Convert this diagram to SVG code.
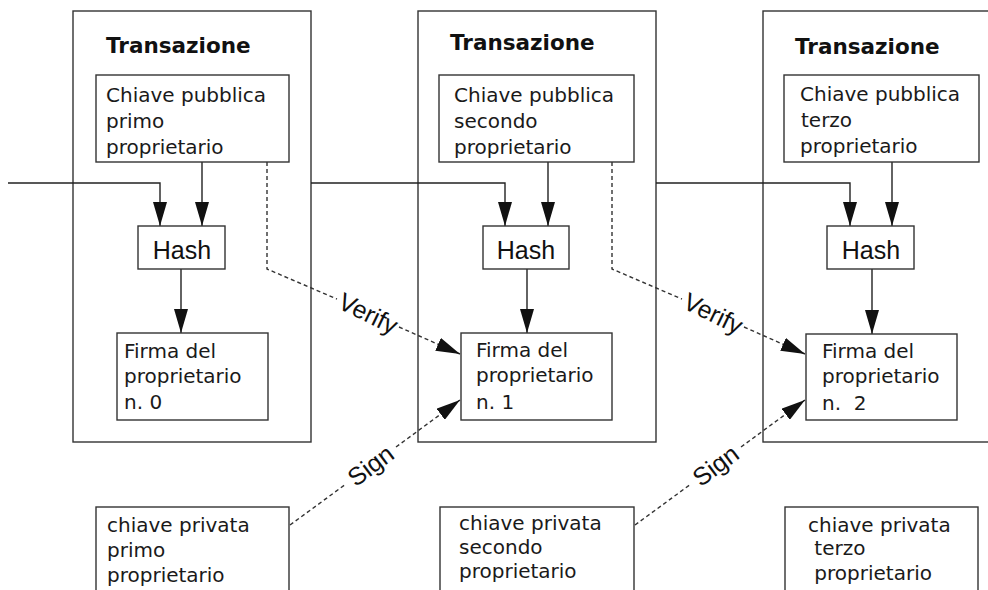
<svg xmlns="http://www.w3.org/2000/svg" width="988" height="590" viewBox="0 0 988 590">
<style>
.box{fill:#fff;stroke:#333;stroke-width:1.4}
.frame{fill:none;stroke:#333;stroke-width:1.4}
.title{font-family:"DejaVu Sans",sans-serif;font-weight:bold;font-size:21.5px;fill:#111}
.t{font-family:"DejaVu Sans",sans-serif;font-size:20px;fill:#1a1a1a;white-space:pre}
.hash{font-family:"Liberation Sans",Arial,sans-serif;font-size:25px;fill:#111;text-anchor:middle}
.lbl{font-family:"Liberation Sans",Arial,sans-serif;font-size:25px;fill:#111;text-anchor:middle}
.ln{fill:none;stroke:#222;stroke-width:1.4}
.dash{fill:none;stroke:#333;stroke-width:1.4;stroke-dasharray:4 3}
</style>
<defs>
<marker id="ah" markerUnits="userSpaceOnUse" markerWidth="24" markerHeight="14" viewBox="0 0 24 14" refX="24" refY="7" orient="auto"><path d="M0,0 L24,7 L0,14 z" fill="#111"/></marker>
</defs>
<rect width="988" height="590" fill="#fff"/>

<g id="tx1">
<rect class="frame" x="73" y="11" width="238" height="431"/>
<text class="title" x="106" y="53">Transazione</text>
</g>
<g id="tx2">
<rect class="frame" x="418" y="11" width="238" height="431"/>
<text class="title" x="450" y="50">Transazione</text>
</g>
<g id="tx3">
<rect class="frame" x="763" y="11" width="260" height="431"/>
<text class="title" x="795" y="54">Transazione</text>
</g>

<g id="connectors">
<path class="ln" d="M8,183 H160 V226" marker-end="url(#ah)"/>
<path class="ln" d="M202,162 V226" marker-end="url(#ah)"/>
<path class="ln" d="M181,269 V333" marker-end="url(#ah)"/>
<path class="ln" d="M311,183 H505 V226" marker-end="url(#ah)"/>
<path class="ln" d="M548,162 V226" marker-end="url(#ah)"/>
<path class="ln" d="M527,269 V333" marker-end="url(#ah)"/>
<path class="ln" d="M656,183 H850 V226" marker-end="url(#ah)"/>
<path class="ln" d="M892,162 V226" marker-end="url(#ah)"/>
<path class="ln" d="M872,269 V334" marker-end="url(#ah)"/>

<path class="dash" d="M267,162 V269 L337,299"/>
<path class="dash" d="M399,327 L460,354" marker-end="url(#ah)"/>
<text class="lbl" transform="translate(368,314) rotate(26)" dy="8">Verify</text>

<path class="dash" d="M612,162 V269 L682,299"/>
<path class="dash" d="M744,327 L805,354" marker-end="url(#ah)"/>
<text class="lbl" transform="translate(713,314) rotate(26)" dy="8">Verify</text>

<path class="dash" d="M290,525 L346,484"/>
<path class="dash" d="M396,447 L460,400" marker-end="url(#ah)"/>
<text class="lbl" transform="translate(371,466) rotate(-37)" dy="8">Sign</text>

<path class="dash" d="M635,525 L691,484"/>
<path class="dash" d="M741,447 L805,400" marker-end="url(#ah)"/>
<text class="lbl" transform="translate(716,466) rotate(-37)" dy="8">Sign</text>
</g>

<g id="pub1">
<rect class="box" x="96" y="75" width="193" height="87"/>
<text class="t"><tspan x="106" y="102">Chiave pubblica</tspan><tspan x="106" y="128">primo</tspan><tspan x="106" y="154">proprietario</tspan></text>
</g>
<g id="pub2">
<rect class="box" x="439" y="75" width="195" height="87"/>
<text class="t"><tspan x="454" y="102">Chiave pubblica</tspan><tspan x="454" y="128">secondo</tspan><tspan x="454" y="154">proprietario</tspan></text>
</g>
<g id="pub3">
<rect class="box" x="784" y="75" width="195" height="87"/>
<text class="t"><tspan x="800" y="101">Chiave pubblica</tspan><tspan x="801" y="127">terzo</tspan><tspan x="800" y="153">proprietario</tspan></text>
</g>

<g id="hash1">
<rect class="box" x="138" y="226" width="87" height="43"/>
<text class="hash" x="182" y="259">Hash</text>
</g>
<g id="hash2">
<rect class="box" x="483" y="226" width="86" height="43"/>
<text class="hash" x="526" y="259">Hash</text>
</g>
<g id="hash3">
<rect class="box" x="827" y="226" width="87" height="43"/>
<text class="hash" x="871" y="259">Hash</text>
</g>

<g id="firma1">
<rect class="box" x="117" y="333" width="151" height="87"/>
<text class="t"><tspan x="124" y="358">Firma del</tspan><tspan x="124" y="383">proprietario</tspan><tspan x="124" y="409">n. 0</tspan></text>
</g>
<g id="firma2">
<rect class="box" x="461" y="333" width="151" height="87"/>
<text class="t"><tspan x="476" y="357">Firma del</tspan><tspan x="476" y="382">proprietario</tspan><tspan x="476" y="409">n. 1</tspan></text>
</g>
<g id="firma3">
<rect class="box" x="806" y="334" width="151" height="86"/>
<text class="t"><tspan x="822" y="358">Firma del</tspan><tspan x="822" y="383">proprietario</tspan><tspan x="822" y="410">n.  2</tspan></text>
</g>

<g id="priv1">
<rect class="box" x="96" y="507" width="193" height="100"/>
<text class="t"><tspan x="107" y="532">chiave privata</tspan><tspan x="107" y="557">primo</tspan><tspan x="107" y="582">proprietario</tspan></text>
</g>
<g id="priv2">
<rect class="box" x="440" y="507" width="194" height="100"/>
<text class="t"><tspan x="459" y="530">chiave privata</tspan><tspan x="459" y="554">secondo</tspan><tspan x="459" y="578">proprietario</tspan></text>
</g>
<g id="priv3">
<rect class="box" x="785" y="507" width="193" height="100"/>
<text class="t"><tspan x="808" y="532">chiave privata</tspan><tspan x="808" y="555"> terzo</tspan><tspan x="808" y="580"> proprietario</tspan></text>
</g>
</svg>
